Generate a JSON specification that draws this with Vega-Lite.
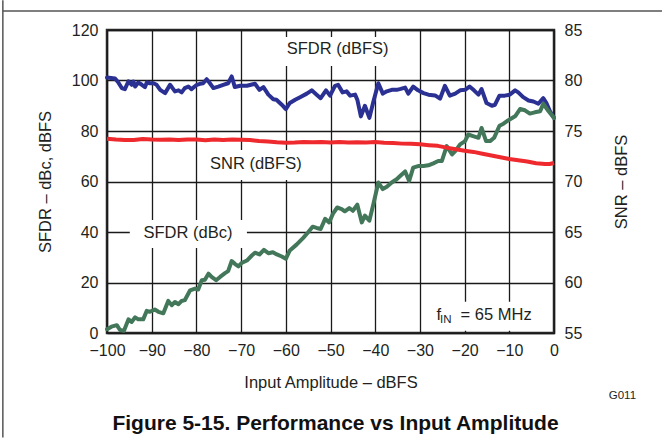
{
  "$schema": "https://vega.github.io/schema/vega-lite/v6.json",
  "width": 447,
  "height": 303,
  "autosize": "none",
  "padding": {"left": 107, "top": 30, "right": 108, "bottom": 105},
  "background": "white",
  "config": {
    "font": "Liberation Sans",
    "view": {"stroke": "#2a2a2a", "strokeWidth": 2.5},
    "axis": {
      "labelFont": "Liberation Sans",
      "titleFont": "Liberation Sans",
      "labelFontSize": 16,
      "titleFontSize": 16.5,
      "titleFontWeight": "normal",
      "labelColor": "#231f20",
      "titleColor": "#231f20",
      "labelOverlap": false,
      "labelFlush": false,
      "ticks": false,
      "tickSize": 0,
      "domain": false,
      "gridColor": "#1a1a1a",
      "gridWidth": 1.3,
      "gridOpacity": 1
    }
  },
  "title": {
    "text": "Figure 5-15. Performance vs Input Amplitude",
    "orient": "bottom",
    "anchor": "middle",
    "font": "Liberation Sans",
    "fontSize": 21,
    "fontWeight": "bold",
    "color": "#111111",
    "offset": -25,
    "dx": 5
  },
  "datasets": {
    "sfdr": [
      {"x": -100, "y": 101.2, "s": "SFDR (dBFS)"}, {"x": -98.2, "y": 100.8, "s": "SFDR (dBFS)"}, {"x": -97.5, "y": 99.3, "s": "SFDR (dBFS)"}, {"x": -96.7, "y": 97.0, "s": "SFDR (dBFS)"}, {"x": -96, "y": 96.6, "s": "SFDR (dBFS)"}, {"x": -95.2, "y": 99.7, "s": "SFDR (dBFS)"}, {"x": -94.5, "y": 98.3, "s": "SFDR (dBFS)"}, {"x": -94.1, "y": 99.6, "s": "SFDR (dBFS)"}, {"x": -93.7, "y": 97.6, "s": "SFDR (dBFS)"}, {"x": -93, "y": 99.2, "s": "SFDR (dBFS)"}, {"x": -92.2, "y": 98.3, "s": "SFDR (dBFS)"}, {"x": -91.5, "y": 97.4, "s": "SFDR (dBFS)"}, {"x": -91.1, "y": 99.2, "s": "SFDR (dBFS)"}, {"x": -90.4, "y": 98.9, "s": "SFDR (dBFS)"}, {"x": -89.6, "y": 98.9, "s": "SFDR (dBFS)"}, {"x": -88.9, "y": 98.3, "s": "SFDR (dBFS)"}, {"x": -88.1, "y": 96.3, "s": "SFDR (dBFS)"}, {"x": -87, "y": 95.0, "s": "SFDR (dBFS)"}, {"x": -85.9, "y": 98.3, "s": "SFDR (dBFS)"}, {"x": -85.5, "y": 97.4, "s": "SFDR (dBFS)"}, {"x": -84.8, "y": 95.7, "s": "SFDR (dBFS)"}, {"x": -84, "y": 96.1, "s": "SFDR (dBFS)"}, {"x": -83.3, "y": 95.3, "s": "SFDR (dBFS)"}, {"x": -82.6, "y": 97.0, "s": "SFDR (dBFS)"}, {"x": -81.8, "y": 97.6, "s": "SFDR (dBFS)"}, {"x": -81.1, "y": 96.6, "s": "SFDR (dBFS)"}, {"x": -79.9, "y": 98.3, "s": "SFDR (dBFS)"}, {"x": -79.2, "y": 98.7, "s": "SFDR (dBFS)"}, {"x": -78.5, "y": 98.9, "s": "SFDR (dBFS)"}, {"x": -77.7, "y": 100.5, "s": "SFDR (dBFS)"}, {"x": -77.1, "y": 99.2, "s": "SFDR (dBFS)"}, {"x": -76.2, "y": 97.0, "s": "SFDR (dBFS)"}, {"x": -75.1, "y": 97.6, "s": "SFDR (dBFS)"}, {"x": -74, "y": 98.3, "s": "SFDR (dBFS)"}, {"x": -72.9, "y": 98.9, "s": "SFDR (dBFS)"}, {"x": -72.1, "y": 101.6, "s": "SFDR (dBFS)"}, {"x": -71.4, "y": 97.4, "s": "SFDR (dBFS)"}, {"x": -70.2, "y": 97.9, "s": "SFDR (dBFS)"}, {"x": -68.7, "y": 97.9, "s": "SFDR (dBFS)"}, {"x": -66.9, "y": 98.7, "s": "SFDR (dBFS)"}, {"x": -65.9, "y": 96.3, "s": "SFDR (dBFS)"}, {"x": -65, "y": 97.4, "s": "SFDR (dBFS)"}, {"x": -63.9, "y": 94.4, "s": "SFDR (dBFS)"}, {"x": -62.8, "y": 92.6, "s": "SFDR (dBFS)"}, {"x": -62.1, "y": 92.4, "s": "SFDR (dBFS)"}, {"x": -60.9, "y": 90.4, "s": "SFDR (dBFS)"}, {"x": -60, "y": 88.7, "s": "SFDR (dBFS)"}, {"x": -59.1, "y": 91.1, "s": "SFDR (dBFS)"}, {"x": -57.9, "y": 92.4, "s": "SFDR (dBFS)"}, {"x": -56.8, "y": 93.4, "s": "SFDR (dBFS)"}, {"x": -55.3, "y": 94.8, "s": "SFDR (dBFS)"}, {"x": -54.2, "y": 96.1, "s": "SFDR (dBFS)"}, {"x": -53.1, "y": 94.4, "s": "SFDR (dBFS)"}, {"x": -52.2, "y": 93.0, "s": "SFDR (dBFS)"}, {"x": -51, "y": 96.1, "s": "SFDR (dBFS)"}, {"x": -50.1, "y": 94.0, "s": "SFDR (dBFS)"}, {"x": -49, "y": 97.9, "s": "SFDR (dBFS)"}, {"x": -48.3, "y": 98.3, "s": "SFDR (dBFS)"}, {"x": -47.3, "y": 95.3, "s": "SFDR (dBFS)"}, {"x": -46.4, "y": 95.7, "s": "SFDR (dBFS)"}, {"x": -45.6, "y": 94.0, "s": "SFDR (dBFS)"}, {"x": -44.5, "y": 94.4, "s": "SFDR (dBFS)"}, {"x": -44, "y": 92.4, "s": "SFDR (dBFS)"}, {"x": -43.2, "y": 85.8, "s": "SFDR (dBFS)"}, {"x": -42.3, "y": 90.0, "s": "SFDR (dBFS)"}, {"x": -41.3, "y": 85.2, "s": "SFDR (dBFS)"}, {"x": -40.4, "y": 91.7, "s": "SFDR (dBFS)"}, {"x": -39.3, "y": 98.9, "s": "SFDR (dBFS)"}, {"x": -38.3, "y": 94.8, "s": "SFDR (dBFS)"}, {"x": -37.4, "y": 95.7, "s": "SFDR (dBFS)"}, {"x": -36.3, "y": 96.3, "s": "SFDR (dBFS)"}, {"x": -35.2, "y": 96.3, "s": "SFDR (dBFS)"}, {"x": -34.3, "y": 96.7, "s": "SFDR (dBFS)"}, {"x": -33.3, "y": 97.2, "s": "SFDR (dBFS)"}, {"x": -32.6, "y": 94.8, "s": "SFDR (dBFS)"}, {"x": -31.5, "y": 97.6, "s": "SFDR (dBFS)"}, {"x": -30.4, "y": 96.1, "s": "SFDR (dBFS)"}, {"x": -29.2, "y": 95.0, "s": "SFDR (dBFS)"}, {"x": -28.1, "y": 94.4, "s": "SFDR (dBFS)"}, {"x": -26.6, "y": 94.1, "s": "SFDR (dBFS)"}, {"x": -25.5, "y": 92.8, "s": "SFDR (dBFS)"}, {"x": -24.4, "y": 97.9, "s": "SFDR (dBFS)"}, {"x": -23.3, "y": 94.0, "s": "SFDR (dBFS)"}, {"x": -22.1, "y": 94.8, "s": "SFDR (dBFS)"}, {"x": -21, "y": 96.1, "s": "SFDR (dBFS)"}, {"x": -19.9, "y": 96.3, "s": "SFDR (dBFS)"}, {"x": -18.9, "y": 97.6, "s": "SFDR (dBFS)"}, {"x": -17.9, "y": 96.1, "s": "SFDR (dBFS)"}, {"x": -16.9, "y": 94.4, "s": "SFDR (dBFS)"}, {"x": -16.2, "y": 96.6, "s": "SFDR (dBFS)"}, {"x": -15.1, "y": 91.1, "s": "SFDR (dBFS)"}, {"x": -13.9, "y": 90.0, "s": "SFDR (dBFS)"}, {"x": -13.2, "y": 90.4, "s": "SFDR (dBFS)"}, {"x": -12.2, "y": 94.0, "s": "SFDR (dBFS)"}, {"x": -11, "y": 94.0, "s": "SFDR (dBFS)"}, {"x": -9.9, "y": 94.4, "s": "SFDR (dBFS)"}, {"x": -8.7, "y": 96.1, "s": "SFDR (dBFS)"}, {"x": -8, "y": 95.3, "s": "SFDR (dBFS)"}, {"x": -6.9, "y": 93.4, "s": "SFDR (dBFS)"}, {"x": -5.7, "y": 92.1, "s": "SFDR (dBFS)"}, {"x": -4.6, "y": 91.7, "s": "SFDR (dBFS)"}, {"x": -3.5, "y": 90.8, "s": "SFDR (dBFS)"}, {"x": -2.4, "y": 93.0, "s": "SFDR (dBFS)"}, {"x": -1.7, "y": 91.1, "s": "SFDR (dBFS)"}, {"x": -0.9, "y": 87.8, "s": "SFDR (dBFS)"}, {"x": 0, "y": 85.2, "s": "SFDR (dBFS)"},
      {"x": -100, "y": 1.5, "s": "SFDR (dBc)"}, {"x": -99, "y": 2.5, "s": "SFDR (dBc)"}, {"x": -97.8, "y": 3.1, "s": "SFDR (dBc)"}, {"x": -97.1, "y": 1.2, "s": "SFDR (dBc)"}, {"x": -96.2, "y": 0.9, "s": "SFDR (dBc)"}, {"x": -95.2, "y": 5.4, "s": "SFDR (dBc)"}, {"x": -94.5, "y": 4.4, "s": "SFDR (dBc)"}, {"x": -93.7, "y": 6.2, "s": "SFDR (dBc)"}, {"x": -93, "y": 5.4, "s": "SFDR (dBc)"}, {"x": -91.9, "y": 5.4, "s": "SFDR (dBc)"}, {"x": -91.1, "y": 8.8, "s": "SFDR (dBc)"}, {"x": -90.4, "y": 8.4, "s": "SFDR (dBc)"}, {"x": -89.3, "y": 9.3, "s": "SFDR (dBc)"}, {"x": -88.5, "y": 8.4, "s": "SFDR (dBc)"}, {"x": -87.4, "y": 7.8, "s": "SFDR (dBc)"}, {"x": -86.3, "y": 12.7, "s": "SFDR (dBc)"}, {"x": -85.5, "y": 11.0, "s": "SFDR (dBc)"}, {"x": -84.8, "y": 12.3, "s": "SFDR (dBc)"}, {"x": -84, "y": 11.4, "s": "SFDR (dBc)"}, {"x": -83.3, "y": 12.7, "s": "SFDR (dBc)"}, {"x": -82.6, "y": 13.0, "s": "SFDR (dBc)"}, {"x": -81.4, "y": 16.9, "s": "SFDR (dBc)"}, {"x": -80.3, "y": 17.6, "s": "SFDR (dBc)"}, {"x": -79.6, "y": 17.2, "s": "SFDR (dBc)"}, {"x": -78.8, "y": 20.9, "s": "SFDR (dBc)"}, {"x": -78.1, "y": 21.1, "s": "SFDR (dBc)"}, {"x": -77.3, "y": 23.5, "s": "SFDR (dBc)"}, {"x": -76.6, "y": 22.2, "s": "SFDR (dBc)"}, {"x": -75.6, "y": 20.9, "s": "SFDR (dBc)"}, {"x": -74.7, "y": 22.2, "s": "SFDR (dBc)"}, {"x": -73.6, "y": 23.7, "s": "SFDR (dBc)"}, {"x": -72.9, "y": 24.5, "s": "SFDR (dBc)"}, {"x": -72.1, "y": 28.5, "s": "SFDR (dBc)"}, {"x": -71.4, "y": 27.4, "s": "SFDR (dBc)"}, {"x": -70.6, "y": 26.4, "s": "SFDR (dBc)"}, {"x": -69.9, "y": 27.7, "s": "SFDR (dBc)"}, {"x": -68.7, "y": 28.7, "s": "SFDR (dBc)"}, {"x": -67.6, "y": 30.7, "s": "SFDR (dBc)"}, {"x": -66.9, "y": 31.8, "s": "SFDR (dBc)"}, {"x": -65.9, "y": 31.1, "s": "SFDR (dBc)"}, {"x": -64.9, "y": 32.9, "s": "SFDR (dBc)"}, {"x": -63.9, "y": 31.6, "s": "SFDR (dBc)"}, {"x": -62.9, "y": 32.0, "s": "SFDR (dBc)"}, {"x": -62, "y": 31.1, "s": "SFDR (dBc)"}, {"x": -60.9, "y": 30.3, "s": "SFDR (dBc)"}, {"x": -60, "y": 29.4, "s": "SFDR (dBc)"}, {"x": -59.1, "y": 32.7, "s": "SFDR (dBc)"}, {"x": -57.6, "y": 35.0, "s": "SFDR (dBc)"}, {"x": -56.1, "y": 37.7, "s": "SFDR (dBc)"}, {"x": -55, "y": 39.9, "s": "SFDR (dBc)"}, {"x": -54, "y": 42.1, "s": "SFDR (dBc)"}, {"x": -53.1, "y": 41.6, "s": "SFDR (dBc)"}, {"x": -52.2, "y": 41.2, "s": "SFDR (dBc)"}, {"x": -51.2, "y": 45.2, "s": "SFDR (dBc)"}, {"x": -50.3, "y": 43.8, "s": "SFDR (dBc)"}, {"x": -49.4, "y": 47.4, "s": "SFDR (dBc)"}, {"x": -48.5, "y": 49.7, "s": "SFDR (dBc)"}, {"x": -47.5, "y": 49.1, "s": "SFDR (dBc)"}, {"x": -46.8, "y": 48.2, "s": "SFDR (dBc)"}, {"x": -45.8, "y": 49.5, "s": "SFDR (dBc)"}, {"x": -45, "y": 48.4, "s": "SFDR (dBc)"}, {"x": -44, "y": 50.8, "s": "SFDR (dBc)"}, {"x": -43, "y": 43.8, "s": "SFDR (dBc)"}, {"x": -42.3, "y": 46.5, "s": "SFDR (dBc)"}, {"x": -41.3, "y": 44.5, "s": "SFDR (dBc)"}, {"x": -40.4, "y": 51.1, "s": "SFDR (dBc)"}, {"x": -39.3, "y": 59.6, "s": "SFDR (dBc)"}, {"x": -38.3, "y": 57.0, "s": "SFDR (dBc)"}, {"x": -37.4, "y": 57.9, "s": "SFDR (dBc)"}, {"x": -36.3, "y": 59.6, "s": "SFDR (dBc)"}, {"x": -35.2, "y": 60.9, "s": "SFDR (dBc)"}, {"x": -34.3, "y": 62.4, "s": "SFDR (dBc)"}, {"x": -33.3, "y": 64.0, "s": "SFDR (dBc)"}, {"x": -32.4, "y": 60.2, "s": "SFDR (dBc)"}, {"x": -31.5, "y": 65.5, "s": "SFDR (dBc)"}, {"x": -30.4, "y": 66.1, "s": "SFDR (dBc)"}, {"x": -29.2, "y": 66.1, "s": "SFDR (dBc)"}, {"x": -28.1, "y": 66.4, "s": "SFDR (dBc)"}, {"x": -27, "y": 67.2, "s": "SFDR (dBc)"}, {"x": -25.9, "y": 68.1, "s": "SFDR (dBc)"}, {"x": -25.1, "y": 68.1, "s": "SFDR (dBc)"}, {"x": -24, "y": 74.0, "s": "SFDR (dBc)"}, {"x": -22.8, "y": 70.7, "s": "SFDR (dBc)"}, {"x": -22.1, "y": 72.0, "s": "SFDR (dBc)"}, {"x": -21, "y": 74.7, "s": "SFDR (dBc)"}, {"x": -19.9, "y": 76.0, "s": "SFDR (dBc)"}, {"x": -19.2, "y": 78.6, "s": "SFDR (dBc)"}, {"x": -18.1, "y": 78.0, "s": "SFDR (dBc)"}, {"x": -16.9, "y": 77.3, "s": "SFDR (dBc)"}, {"x": -16.2, "y": 81.2, "s": "SFDR (dBc)"}, {"x": -15.2, "y": 76.0, "s": "SFDR (dBc)"}, {"x": -14.3, "y": 76.0, "s": "SFDR (dBc)"}, {"x": -13.4, "y": 77.3, "s": "SFDR (dBc)"}, {"x": -12.2, "y": 82.1, "s": "SFDR (dBc)"}, {"x": -11.3, "y": 82.9, "s": "SFDR (dBc)"}, {"x": -10.2, "y": 84.3, "s": "SFDR (dBc)"}, {"x": -8.7, "y": 85.8, "s": "SFDR (dBc)"}, {"x": -7.6, "y": 88.7, "s": "SFDR (dBc)"}, {"x": -6.5, "y": 88.2, "s": "SFDR (dBc)"}, {"x": -5.4, "y": 86.9, "s": "SFDR (dBc)"}, {"x": -4.3, "y": 87.4, "s": "SFDR (dBc)"}, {"x": -3.1, "y": 87.8, "s": "SFDR (dBc)"}, {"x": -2.4, "y": 90.8, "s": "SFDR (dBc)"}, {"x": -1.2, "y": 87.8, "s": "SFDR (dBc)"}, {"x": 0, "y": 85.2, "s": "SFDR (dBc)"}
    ],
    "snr": [
      {"x": -100, "snr": 74.23}, {"x": -98, "snr": 74.15}, {"x": -96, "snr": 74.1}, {"x": -94, "snr": 74.1}, {"x": -92, "snr": 74.2}, {"x": -90, "snr": 74.15}, {"x": -88, "snr": 74.13}, {"x": -86, "snr": 74.15}, {"x": -84, "snr": 74.1}, {"x": -82, "snr": 74.15}, {"x": -80, "snr": 74.15}, {"x": -78, "snr": 74.08}, {"x": -76, "snr": 74.15}, {"x": -74, "snr": 74.1}, {"x": -72, "snr": 74.15}, {"x": -70, "snr": 74.13}, {"x": -68, "snr": 74.1}, {"x": -66, "snr": 74.0}, {"x": -64, "snr": 73.95}, {"x": -62, "snr": 73.88}, {"x": -60, "snr": 73.83}, {"x": -58, "snr": 73.85}, {"x": -56, "snr": 73.9}, {"x": -54, "snr": 73.88}, {"x": -52, "snr": 73.9}, {"x": -50, "snr": 73.85}, {"x": -48, "snr": 73.9}, {"x": -46, "snr": 73.85}, {"x": -44, "snr": 73.88}, {"x": -42, "snr": 73.85}, {"x": -40, "snr": 73.9}, {"x": -38, "snr": 73.83}, {"x": -36, "snr": 73.8}, {"x": -34, "snr": 73.75}, {"x": -32, "snr": 73.73}, {"x": -30, "snr": 73.68}, {"x": -28, "snr": 73.6}, {"x": -26, "snr": 73.53}, {"x": -24, "snr": 73.35}, {"x": -22, "snr": 73.2}, {"x": -20, "snr": 73.05}, {"x": -18, "snr": 72.93}, {"x": -16, "snr": 72.75}, {"x": -14, "snr": 72.58}, {"x": -12, "snr": 72.4}, {"x": -10, "snr": 72.23}, {"x": -8, "snr": 72.1}, {"x": -6, "snr": 71.98}, {"x": -4, "snr": 71.8}, {"x": -2, "snr": 71.73}, {"x": -1, "snr": 71.73}, {"x": 0, "snr": 71.83}
    ],
    "boxes": [
      {"x1": -61.3, "x2": -35.6, "y1": 105.7, "y2": 117.2},
      {"x1": -78.1, "x2": -55.5, "y1": 60.6, "y2": 72.5},
      {"x1": -94.9, "x2": -68.7, "y1": 33.7, "y2": 44.8},
      {"x1": -27.3, "x2": -3.8, "y1": 0.9, "y2": 12.4}
    ],
    "labels": [
      {"x": -48.4, "y": 112.3, "t": "SFDR (dBFS)"},
      {"x": -66.7, "y": 67.0, "t": "SNR (dBFS)"},
      {"x": -81.9, "y": 39.7, "t": "SFDR (dBc)"}
    ],
    "fin": [
      {"x": -26.3, "y": 5.3, "t": "f"},
      {"x": -20.9, "y": 5.3, "t": "= 65 MHz"}
    ],
    "sub": [{"x": -25.5, "y": 3.9, "t": "IN"}],
    "code": [{"x": 15.3, "y": -24.8, "t": "G011"}],
    "frame": [
      {"x1": -123.3, "x2": -123.3, "y1": 131.8, "y2": -41.4},
      {"x1": -123.3, "x2": 24.2, "y1": 127.5, "y2": 127.5}
    ]
  },
  "layer": [
    {
      "layer": [
        {
          "data": {"name": "boxes"},
          "mark": {"type": "rect", "fill": "white", "stroke": null},
          "encoding": {
            "x": {"field": "x1", "type": "quantitative", "scale": {"domain": [-100, 0], "nice": false}, "axis": {"values": [-100, -90, -80, -70, -60, -50, -40, -30, -20, -10, 0], "grid": true, "labelPadding": 9, "title": "Input Amplitude – dBFS", "titlePadding": 16}},
            "x2": {"field": "x2"},
            "y": {"field": "y1", "type": "quantitative", "scale": {"domain": [0, 120], "nice": false}, "axis": {"values": [0, 20, 40, 60, 80, 100, 120], "grid": true, "labelPadding": 9, "title": "SFDR – dBc, dBFS", "titlePadding": 18}},
            "y2": {"field": "y2"}
          }
        },
        {
          "data": {"name": "frame"},
          "mark": {"type": "rule", "stroke": "#555555", "strokeWidth": 1.5, "clip": false},
          "encoding": {
            "x": {"field": "x1", "type": "quantitative", "scale": {"domain": [-100, 0], "nice": false}},
            "x2": {"field": "x2"},
            "y": {"field": "y1", "type": "quantitative", "scale": {"domain": [0, 120], "nice": false}},
            "y2": {"field": "y2"}
          }
        },
        {
          "data": {"name": "sfdr"},
          "mark": {"type": "line", "strokeWidth": 4, "strokeJoin": "round", "strokeCap": "round"},
          "encoding": {
            "x": {"field": "x", "type": "quantitative", "scale": {"domain": [-100, 0], "nice": false}},
            "y": {"field": "y", "type": "quantitative", "scale": {"domain": [0, 120], "nice": false}},
            "color": {"field": "s", "type": "nominal", "scale": {"domain": ["SFDR (dBFS)", "SFDR (dBc)"], "range": ["#2b3192", "#43775a"]}, "legend": null}
          }
        },
        {
          "data": {"name": "labels"},
          "mark": {"type": "text", "font": "Liberation Sans", "fontSize": 16.5, "align": "center", "baseline": "middle", "color": "#231f20"},
          "encoding": {
            "x": {"field": "x", "type": "quantitative", "scale": {"domain": [-100, 0], "nice": false}},
            "y": {"field": "y", "type": "quantitative", "scale": {"domain": [0, 120], "nice": false}},
            "text": {"field": "t"}
          }
        },
        {
          "data": {"name": "fin"},
          "mark": {"type": "text", "font": "Liberation Sans", "fontSize": 16.5, "align": "left", "baseline": "alphabetic", "color": "#231f20"},
          "encoding": {
            "x": {"field": "x", "type": "quantitative", "scale": {"domain": [-100, 0], "nice": false}},
            "y": {"field": "y", "type": "quantitative", "scale": {"domain": [0, 120], "nice": false}},
            "text": {"field": "t"}
          }
        },
        {
          "data": {"name": "sub"},
          "mark": {"type": "text", "font": "Liberation Sans", "fontSize": 11.5, "align": "left", "baseline": "alphabetic", "color": "#231f20"},
          "encoding": {
            "x": {"field": "x", "type": "quantitative", "scale": {"domain": [-100, 0], "nice": false}},
            "y": {"field": "y", "type": "quantitative", "scale": {"domain": [0, 120], "nice": false}},
            "text": {"field": "t"}
          }
        },
        {
          "data": {"name": "code"},
          "mark": {"type": "text", "font": "Liberation Sans", "fontSize": 11.5, "align": "center", "baseline": "middle", "color": "#231f20", "clip": false},
          "encoding": {
            "x": {"field": "x", "type": "quantitative", "scale": {"domain": [-100, 0], "nice": false}},
            "y": {"field": "y", "type": "quantitative", "scale": {"domain": [0, 120], "nice": false}},
            "text": {"field": "t"}
          }
        }
      ]
    },
    {
      "data": {"name": "snr"},
      "mark": {"type": "line", "strokeWidth": 4, "strokeJoin": "round", "color": "#ee2a2e"},
      "encoding": {
        "x": {"field": "x", "type": "quantitative", "scale": {"domain": [-100, 0], "nice": false}},
        "y": {"field": "snr", "type": "quantitative", "scale": {"domain": [55, 85], "nice": false}, "axis": {"orient": "right", "values": [55, 60, 65, 70, 75, 80, 85], "grid": false, "labelPadding": 10, "title": "SNR – dBFS", "titleAngle": 270, "titlePadding": 48}}
      }
    }
  ],
  "resolve": {"scale": {"y": "independent"}}
}
